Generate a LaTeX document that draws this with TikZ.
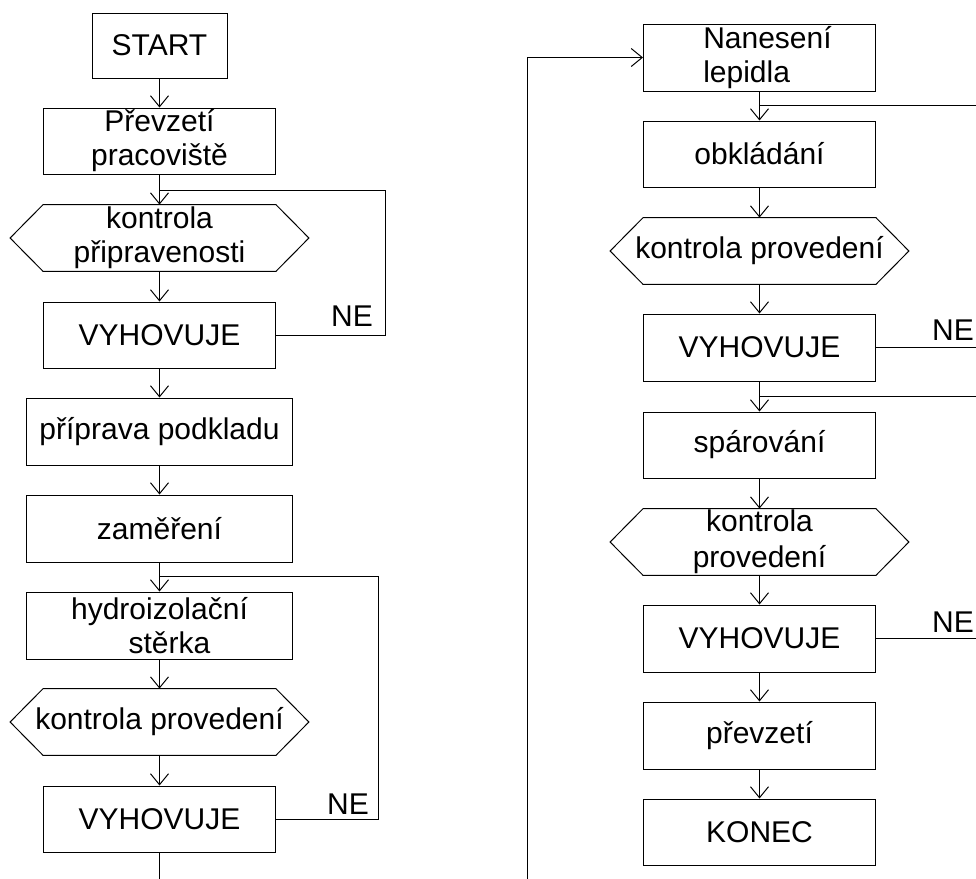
\documentclass[tikz,border=0pt]{standalone}
\usepackage{fontspec}
\setmainfont{Liberation Sans}
\usetikzlibrary{arrows.meta,calc}
\begin{document}
\begin{tikzpicture}[x=0.5pt,y=-0.5pt,
  every node/.style={font=\fontsize{15}{17}\selectfont, inner sep=0pt},
  box/.style={draw, line width=0.5pt, align=center, minimum width=116pt, minimum height=33pt},
  wbox/.style={box, minimum width=133pt, minimum height=33.5pt},
  hexnode/.style={align=center, minimum width=149pt, minimum height=33pt},
  conn/.style={line width=0.5pt, -{Straight Barb[length=5.5pt,width=9pt]}},
  plain/.style={line width=0.5pt},
  lbl/.style={anchor=south}
]
\useasboundingbox (0,0) rectangle (976,879);
% left column
\node[box, minimum width=67.5pt, minimum height=32.5pt] (start) at (159.5,45.5) {START};
\node[box] (prevz) at (159.5,141) {Převzetí\\pracoviště};
\node[hexnode] (hexA) at (159.5,238) {kontrola\\připravenosti};
\node[box] (vyhA) at (159.5,335) {VYHOVUJE};
\node[wbox] (prip) at (159.5,431.5) {příprava podkladu};
\node[wbox] (zam) at (159.5,528.5) {zaměření};
\node[wbox] (hydro) at (159.5,625.5) {hydroizolační\\\hspace*{10pt}stěrka};
\node[hexnode] (hexB) at (159.5,722) {kontrola provedení};
\node[box] (vyhB) at (159.5,819) {VYHOVUJE};
\node[lbl] (neA) at (352,327) {NE};
\node[lbl] (neB) at (348,815) {NE};
% right column
\node[box, minimum height=33.5pt, align=left] (nan) at (759.5,57.5) {\hspace*{8pt}Nanesení\\\hspace*{8pt}lepidla};
\node[box] (obk) at (759.5,154) {obkládání};
\node[hexnode] (hexC) at (759.5,251) {kontrola provedení};
\node[box, minimum height=33.5pt] (vyhC) at (759.5,347.5) {VYHOVUJE};
\node[box] (spar) at (759.5,445) {spárování};
\node[hexnode, font=\fontsize{15}{18}\selectfont] (hexD) at (759.5,542) {kontrola\\provedení};
\node[box, minimum height=33.5pt] (vyhD) at (759.5,638.5) {VYHOVUJE};
\node[box, minimum height=33.5pt] (prev) at (759.5,735.5) {převzetí};
\node[box] (konec) at (759.5,832) {KONEC};
\node[lbl] (neC) at (953,341) {NE};
\node[lbl] (neD) at (953,633) {NE};
% hexagon outlines
\foreach \h in {hexA,hexB,hexC,hexD}
  \draw[plain] (\h.west) -- ([xshift=16.5pt]\h.north west) -- ([xshift=-16.5pt]\h.north east)
    -- (\h.east) -- ([xshift=-16.5pt]\h.south east) -- ([xshift=16.5pt]\h.south west) -- cycle;
% coordinates
\coordinate (jA) at (159.5,190);
\coordinate (cA) at (385,190);
\coordinate (jB) at (159.5,576);
\coordinate (cB) at (378,576);
\coordinate (lb) at (159.5,879);
\coordinate (rb) at (527,879);
\coordinate (jC) at (759.5,105);
\coordinate (eC) at (976,105);
\coordinate (jD) at (759.5,396);
\coordinate (eD) at (976,396);
\coordinate (oC) at (976,347.5);
\coordinate (oD) at (976,638.5);
% left connectors
\draw[conn] (start) -- (prevz);
\draw[conn] (prevz) -- (hexA);
\draw[conn] (hexA) -- (vyhA);
\draw[plain] (vyhA.east) -| (cA) -- (jA);
\draw[conn] (vyhA) -- (prip);
\draw[conn] (prip) -- (zam);
\draw[conn] (zam) -- (hydro);
\draw[conn] (hydro) -- (hexB);
\draw[conn] (hexB) -- (vyhB);
\draw[plain] (vyhB.east) -| (cB) -- (jB);
\draw[plain] (vyhB) -- (lb);
% right connectors
\draw[conn] (rb) |- (nan.west);
\draw[conn] (nan) -- (obk);
\draw[plain] (eC) -- (jC);
\draw[conn] (obk) -- (hexC);
\draw[conn] (hexC) -- (vyhC);
\draw[plain] (vyhC.east) -- (oC);
\draw[conn] (vyhC) -- (spar);
\draw[plain] (eD) -- (jD);
\draw[conn] (spar) -- (hexD);
\draw[conn] (hexD) -- (vyhD);
\draw[plain] (vyhD.east) -- (oD);
\draw[conn] (vyhD) -- (prev);
\draw[conn] (prev) -- (konec);
\end{tikzpicture}
\end{document}
